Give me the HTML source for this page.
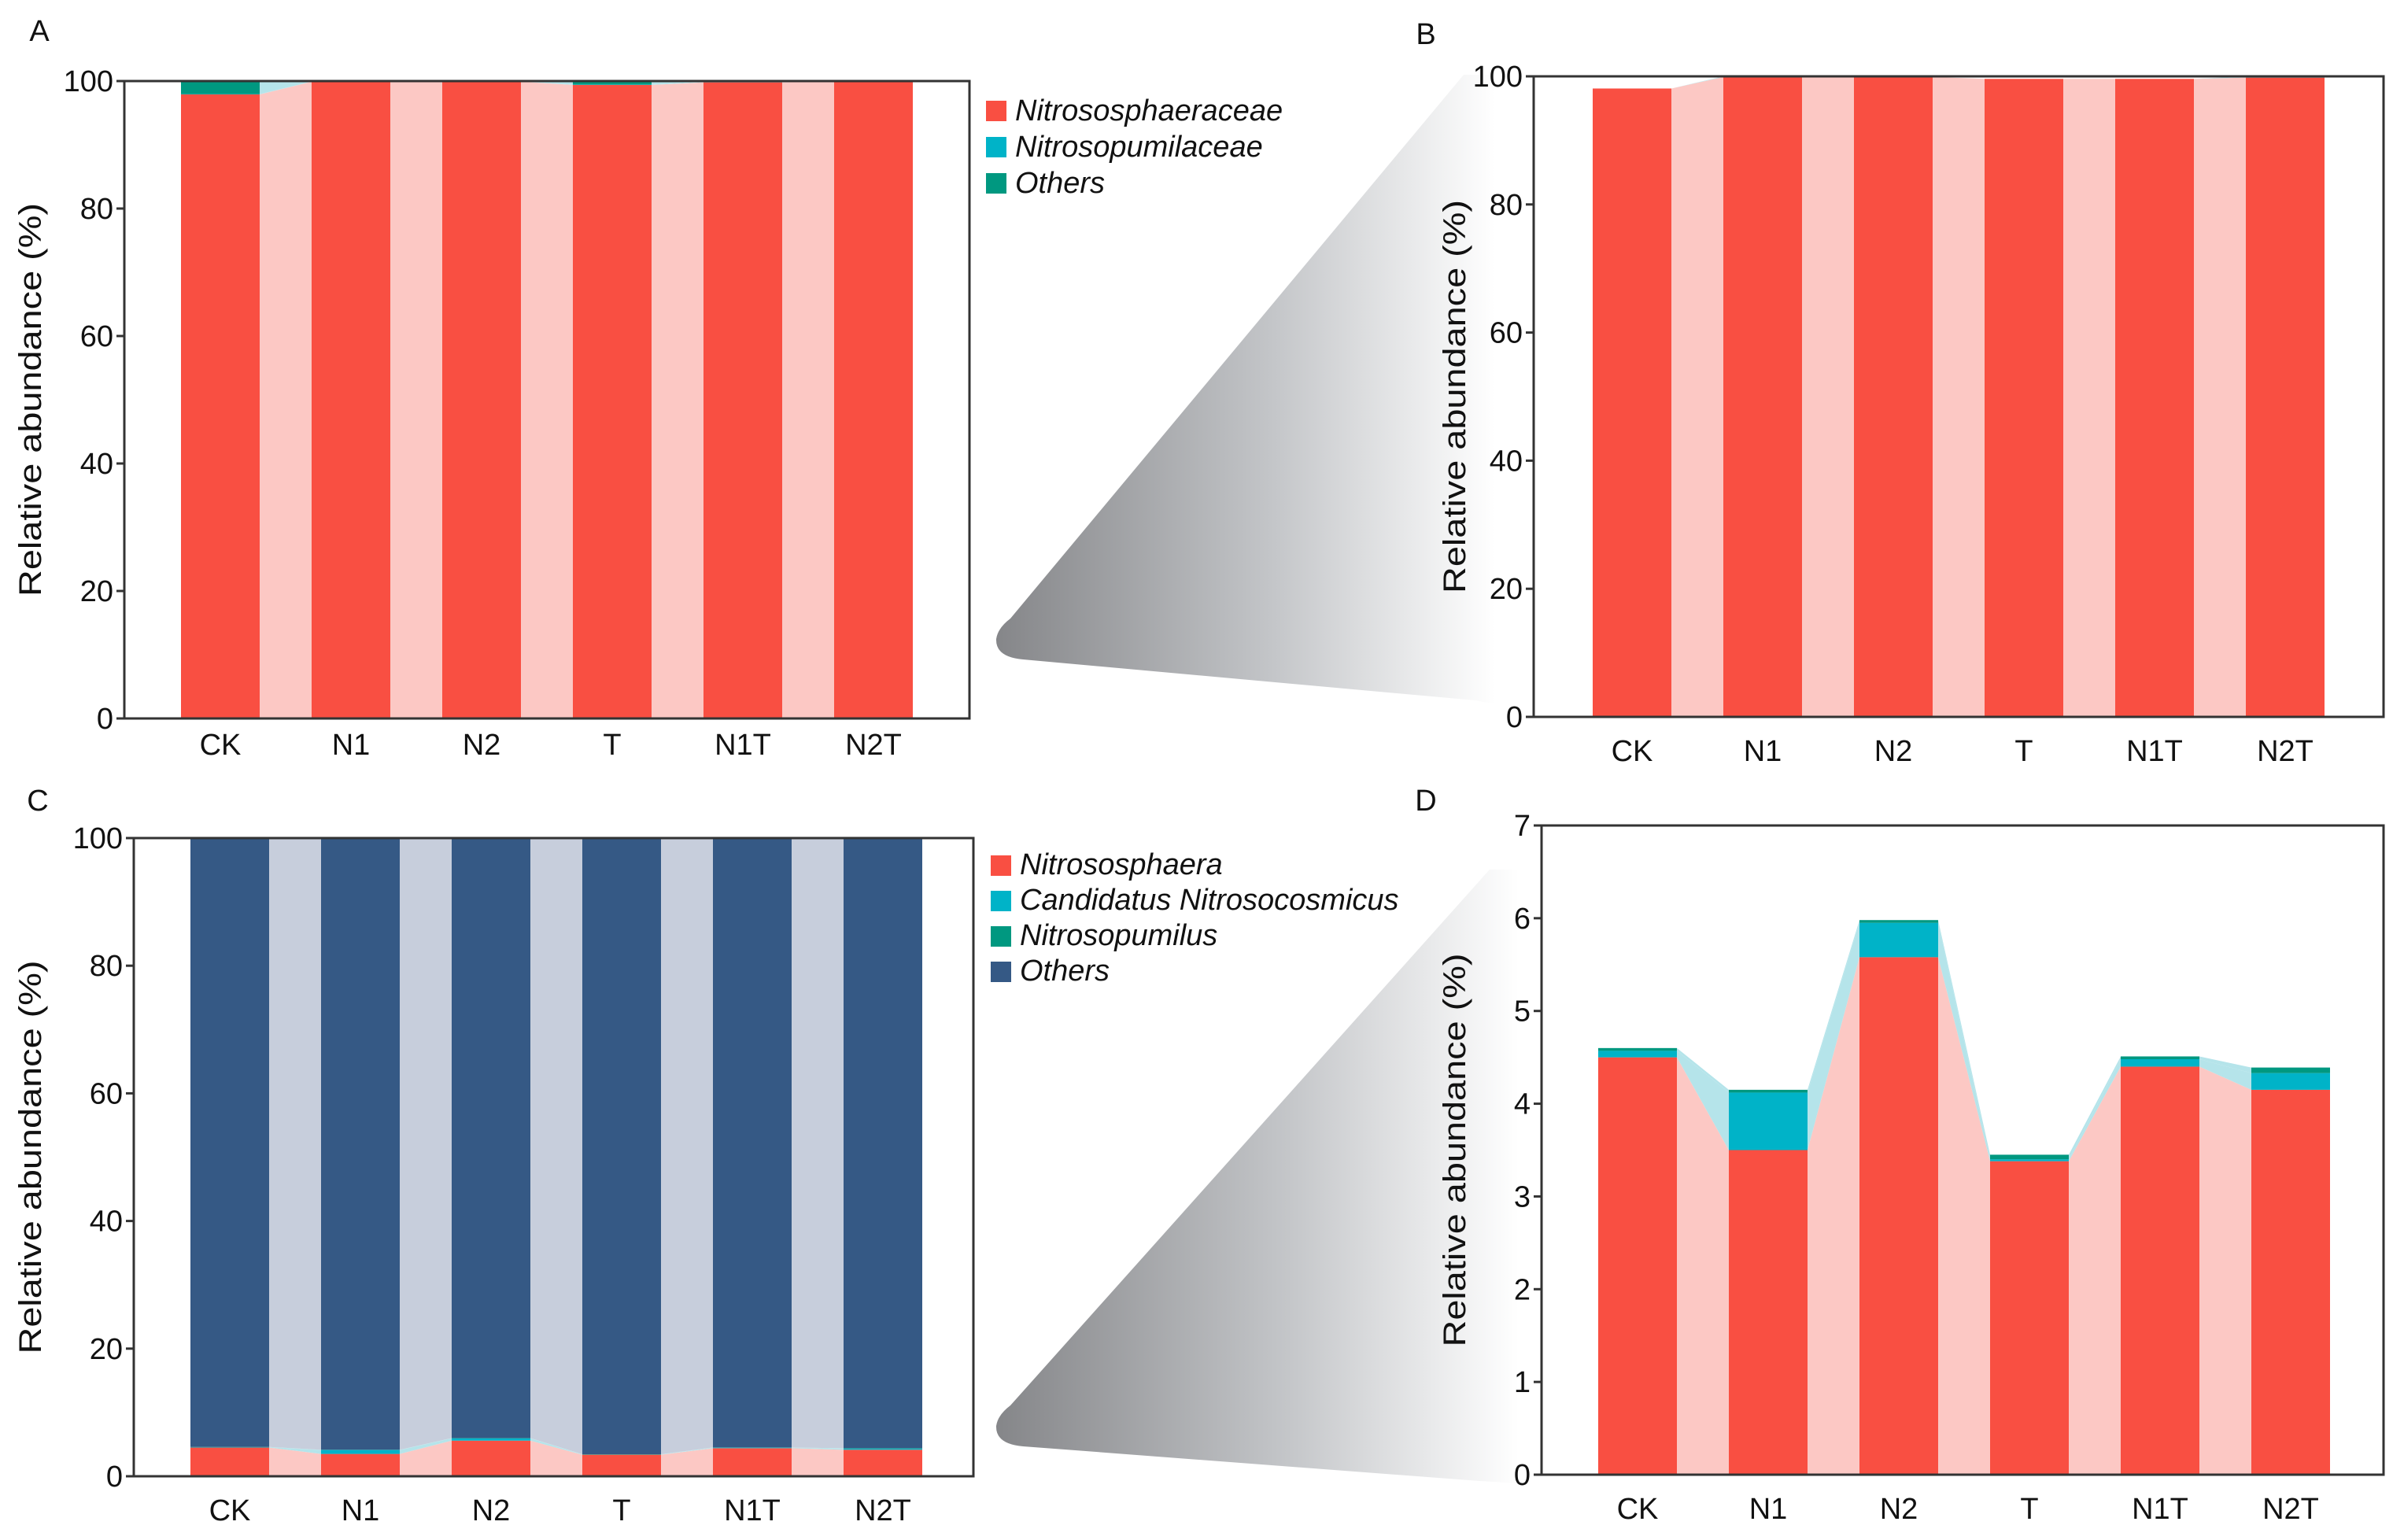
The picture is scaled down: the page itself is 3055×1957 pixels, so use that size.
<!DOCTYPE html>
<html><head><meta charset="utf-8"><style>
html,body{margin:0;padding:0;background:#fff;overflow:hidden;}
svg{display:block;}
text{font-family:"Liberation Sans",Arial,sans-serif;fill:#111;}
</style></head><body>
<svg id="fig" width="3055" height="1957" viewBox="0 0 3055 1957" xmlns="http://www.w3.org/2000/svg">
<defs>
<linearGradient id="wg" x1="0" y1="0" x2="1" y2="0">
<stop offset="0" stop-color="#858689"/><stop offset="0.55" stop-color="#c3c5c8"/><stop offset="1" stop-color="#ffffff"/>
</linearGradient>
</defs>
<path d="M1860,95 L1900,95 L1900,895 L1875,890 L1300,838 Q1265,835 1266,812 Q1268,798 1284,786 Z" fill="url(#wg)"/>
<path d="M1893,1105 L1930,1105 L1930,1885 L1880,1882 L1300,1838 Q1265,1835 1266,1812 Q1268,1798 1284,1786 Z" fill="url(#wg)"/>
<g id="charts"></g>
<text x="50" y="52" font-size="38" text-anchor="middle">A</text>
<text x="1812" y="56" font-size="38" text-anchor="middle">B</text>
<text x="48" y="1030" font-size="38" text-anchor="middle">C</text>
<text x="1812" y="1030" font-size="38" text-anchor="middle">D</text>
<g font-style="italic" font-size="38">
<rect x="1253" y="128" width="26" height="26" fill="#f94f42"/>
<text x="1290" y="153">Nitrososphaeraceae</text>
<rect x="1253" y="174" width="26" height="26" fill="#00b3c8"/>
<text x="1290" y="199">Nitrosopumilaceae</text>
<rect x="1253" y="220" width="26" height="26" fill="#009880"/>
<text x="1290" y="245">Others</text>
</g>
<g font-style="italic" font-size="38">
<rect x="1259" y="1087" width="26" height="26" fill="#f94f42"/>
<text x="1296" y="1111">Nitrososphaera</text>
<rect x="1259" y="1132" width="26" height="26" fill="#00b3c8"/>
<text x="1296" y="1156">Candidatus Nitrosocosmicus</text>
<rect x="1259" y="1177" width="26" height="26" fill="#009880"/>
<text x="1296" y="1201">Nitrosopumilus</text>
<rect x="1259" y="1222" width="26" height="26" fill="#355985"/>
<text x="1296" y="1246">Others</text>
</g>
</svg>
<script>
const categories = ["CK","N1","N2","T","N1T","N2T"];
const aRed = [97.9,99.9,99.9,99.4,99.8,99.9];
const aCyan = [0.05,0.02,0.02,0.05,0.05,0.02];
const aTeal = [2.05,0.08,0.08,0.55,0.15,0.08];
const bRed = [98.1,99.9,99.9,99.6,99.6,99.8];
const bCyan = [0.0,0.02,0.0,0.0,0.0,0.05];
const bTeal = [0.0,0.08,0.0,0.0,0.0,0.15];
const cRed = [4.5,3.5,5.58,3.38,4.4,4.15];
const cCyan = [0.07,0.62,0.37,0.02,0.08,0.18];
const cTeal = [0.03,0.03,0.03,0.05,0.03,0.06];
const cOthers = [95.4,95.85,94.02,96.55,95.49,95.61];
const dRed = [4.5,3.5,5.58,3.38,4.4,4.15];
const dCyan = [0.07,0.62,0.37,0.02,0.08,0.18];
const dTeal = [0.03,0.03,0.03,0.05,0.03,0.06];
const ticks100 = [0,20,40,60,80,100];
const ticks7 = [0,1,2,3,4,5,6,7];

const NS="http://www.w3.org/2000/svg";
const root=document.getElementById('charts');
function mk(tag,attrs,parent){const e=document.createElementNS(NS,tag);for(const k in attrs)e.setAttribute(k,attrs[k]);(parent||root).appendChild(e);return e;}

function drawPanel(id,L,R,T,B,maxV,ticks,series,colors,light,margin,titleX,labOff){
  const g=mk('g',{});
  
  
  const pitch=166, bw=100;
  const xc=i=>L+margin+i*pitch;
  const y=v=>B-(v/maxV)*(B-T);
  const n=categories.length;
  const cum=[];let base=new Array(n).fill(0);
  series.forEach(s=>{const lo=base.slice();const hi=base.map((b,i)=>b+s[i]);cum.push([lo,hi]);base=hi;});
  cum.forEach(([lo,hi],si)=>{
    for(let i=0;i<n-1;i++){
      const x1=xc(i)+bw/2,x2=xc(i+1)-bw/2;
      const p=mk('polygon',{points:`${x1},${y(hi[i])} ${x2},${y(hi[i+1])} ${x2},${y(lo[i+1])} ${x1},${y(lo[i])}`,fill:light[si]},g);
      
      
    }
  });
  cum.forEach(([lo,hi],si)=>{
    for(let i=0;i<n;i++){
      const h=y(lo[i])-y(hi[i]);if(h<=0)continue;
      const r=mk('rect',{x:xc(i)-bw/2,y:y(hi[i]),width:bw,height:h,fill:colors[si]},g);
      
      
    }
  });
  const box=mk('rect',{x:L,y:T,width:R-L,height:B-T,fill:'none',stroke:'#333',"stroke-width":3},g);
  
  
  ticks.forEach(t=>{
    mk('line',{x1:L-10,x2:L,y1:y(t),y2:y(t),stroke:'#333',"stroke-width":3},g);
    const tx=mk('text',{x:L-14,y:y(t)+13,"font-size":38,"text-anchor":"end"},g);
    tx.textContent=t;
    
    
  });
  categories.forEach((c,i)=>{
    const tx=mk('text',{x:xc(i),y:B+labOff,"font-size":38,"text-anchor":"middle"},g);
    tx.textContent=c;
    
    
  });
  const cx=titleX, cy=(T+B)/2;
  const yt=mk('text',{x:cx,y:cy,"font-size":40,"text-anchor":"middle",transform:`rotate(-90 ${cx} ${cy})`,textLength:500,lengthAdjust:"spacingAndGlyphs"},g);
  yt.textContent='Relative abundance (%)';
  
  
}
const C3=['#f94f42','#00b3c8','#009880'], L3=['#fcc8c4','#b5e4ea','#b5e4ea'];
drawPanel('a',158,1232,103,913,100,ticks100,[aRed,aCyan,aTeal],C3,L3,122,52,46);
drawPanel('b',1949,3029,97,911,100,ticks100,[bRed,bCyan,bTeal],C3,L3,125,1862,56);
drawPanel('c',170,1237,1065,1876,100,ticks100,[cRed,cCyan,cTeal,cOthers],C3.concat(['#355985']),L3.concat(['#c7cedc']),122,52,56);
drawPanel('d',1959,3029,1049,1874,7,ticks7,[dRed,dCyan,dTeal],C3,L3,122,1862,56);
</script>
</body></html>
